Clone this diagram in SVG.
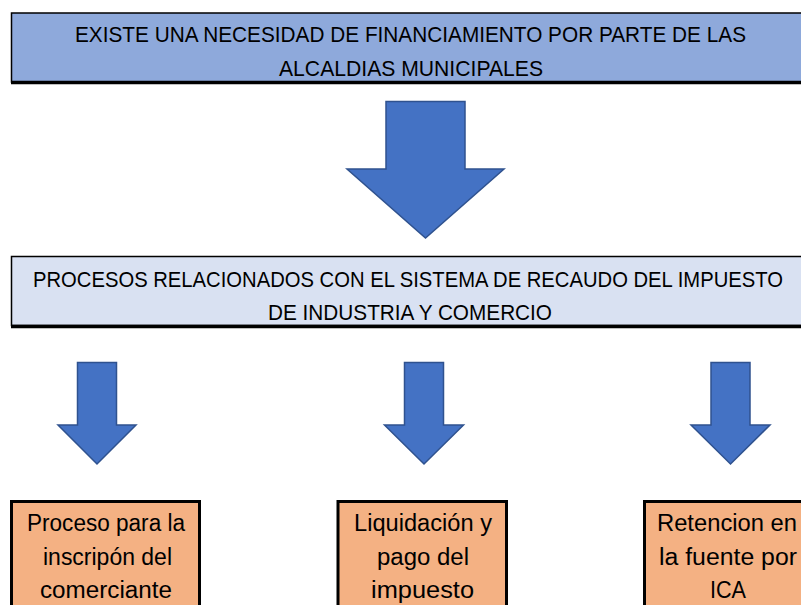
<svg xmlns="http://www.w3.org/2000/svg" width="801" height="605" viewBox="0 0 801 605">
<style>
.t{font-family:"Liberation Sans",Arial,sans-serif;font-size:22px;fill:#000;text-anchor:middle}
.b{font-size:23px}
.arrow{fill:#4472C4;stroke:#2F528F;stroke-width:1.5;stroke-linejoin:miter}
.edge{stroke:#000;fill:none}
</style>
<rect width="801" height="605" fill="#fff"/>
<g id="n-top">
<rect x="11.5" y="13" width="800" height="69" fill="#8EA9DB" stroke="#000" stroke-width="1.5"/>
<line class="edge" x1="11" y1="82.5" x2="801" y2="82.5" stroke-width="3.5"/>
<text class="t" x="410.5" y="42" textLength="671" lengthAdjust="spacingAndGlyphs">EXISTE UNA NECESIDAD DE FINANCIAMIENTO POR PARTE DE LAS</text>
<text class="t" x="411" y="76" textLength="264" lengthAdjust="spacingAndGlyphs">ALCALDIAS MUNICIPALES</text>
</g>
<g id="n-procesos">
<rect x="11.5" y="256.5" width="800" height="69" fill="#D9E1F2" stroke="#000" stroke-width="1.5"/>
<line class="edge" x1="11" y1="326.5" x2="801" y2="326.5" stroke-width="3.5"/>
<text class="t" x="408" y="287" textLength="750" lengthAdjust="spacingAndGlyphs">PROCESOS RELACIONADOS CON EL SISTEMA DE RECAUDO DEL IMPUESTO</text>
<text class="t" x="410" y="320" textLength="284" lengthAdjust="spacingAndGlyphs">DE INDUSTRIA Y COMERCIO</text>
</g>
<g id="n-inscripcion">
<rect x="11.5" y="501.5" width="188" height="110" fill="#F4B183" stroke="#000" stroke-width="3"/>
<text class="t b" x="106" y="531" textLength="158" lengthAdjust="spacingAndGlyphs">Proceso para la</text>
<text class="t b" x="107.5" y="565" textLength="129" lengthAdjust="spacingAndGlyphs">inscripón del</text>
<text class="t b" x="106" y="598" textLength="132" lengthAdjust="spacingAndGlyphs">comerciante</text>
</g>
<g id="n-liquidacion">
<rect x="338" y="501.5" width="168.5" height="110" fill="#F4B183" stroke="#000" stroke-width="3"/>
<text class="t b" x="423" y="531" textLength="138" lengthAdjust="spacingAndGlyphs">Liquidación y</text>
<text class="t b" x="423" y="565" textLength="92" lengthAdjust="spacingAndGlyphs">pago del</text>
<text class="t b" x="422.5" y="598" textLength="103" lengthAdjust="spacingAndGlyphs">impuesto</text>
</g>
<g id="n-retencion">
<rect x="644.5" y="501.5" width="180" height="110" fill="#F4B183" stroke="#000" stroke-width="3"/>
<text class="t b" x="727" y="531" textLength="140" lengthAdjust="spacingAndGlyphs">Retencion en</text>
<text class="t b" x="728" y="565" textLength="138" lengthAdjust="spacingAndGlyphs">la fuente por</text>
<text class="t b" x="728" y="598" textLength="36" lengthAdjust="spacingAndGlyphs">ICA</text>
</g>
<g id="connectors">
<polygon class="arrow" points="386,101.5 465,101.5 465,169 504,169 425.5,238 347,169 386,169"/>
<polygon class="arrow" points="77.5,362.5 116.5,362.5 116.5,425 136,425 97,464 58,425 77.5,425"/>
<polygon class="arrow" points="404.5,362.5 443.5,362.5 443.5,425 463.5,425 424,464 384.5,425 404.5,425"/>
<polygon class="arrow" points="711,362.5 750,362.5 750,425 770,425 730.5,464 691,425 711,425"/>
</g>
</svg>
